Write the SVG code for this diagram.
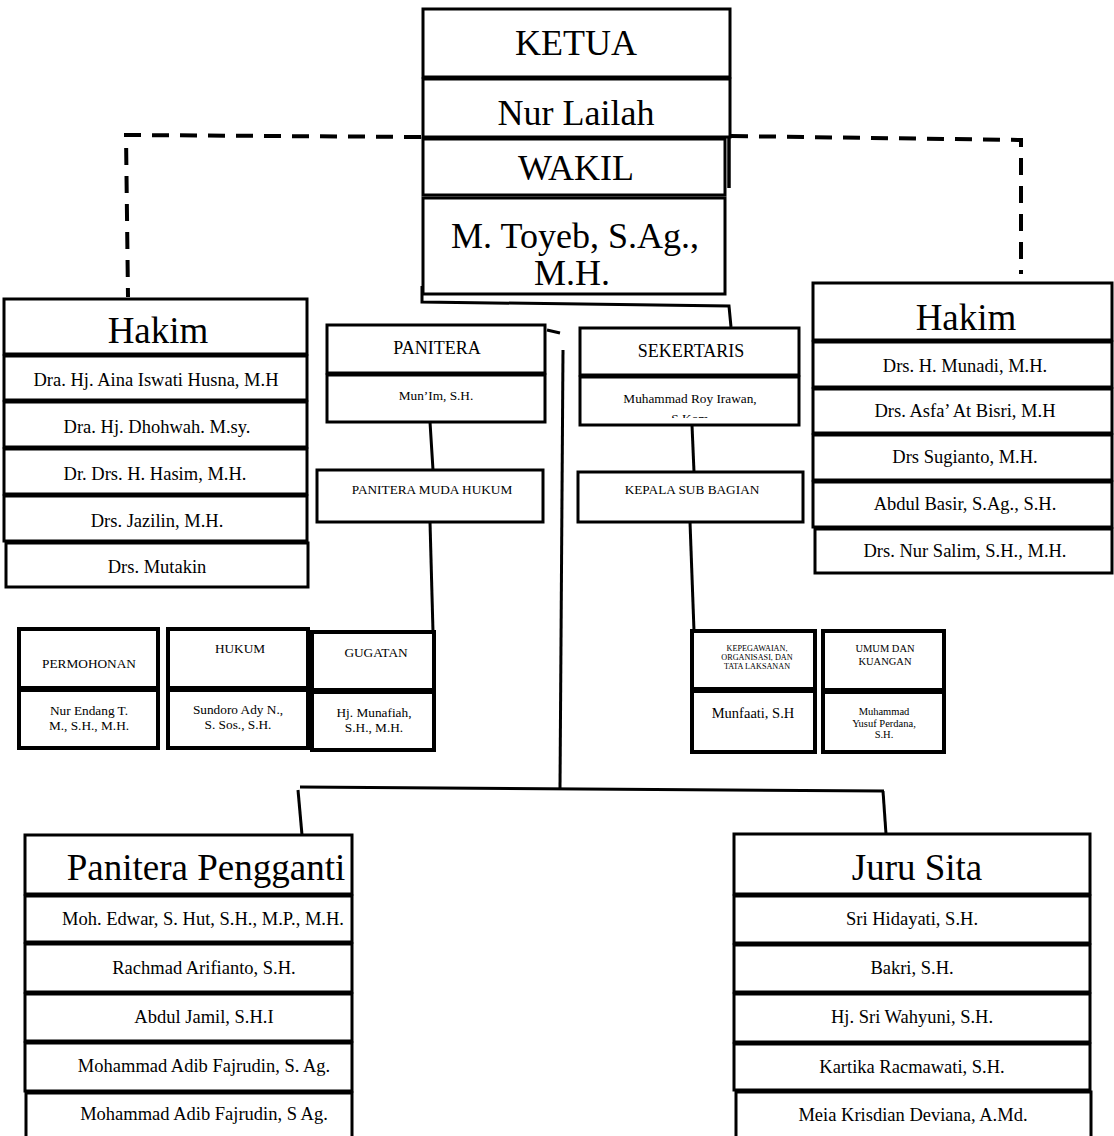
<svg xmlns="http://www.w3.org/2000/svg" width="1114" height="1136" viewBox="0 0 1114 1136">
<style>
  .c{fill:#fff;stroke:#000;stroke-width:3}
  .s{fill:#fff;stroke:#000;stroke-width:4}
  .t{font-family:"Liberation Serif","Times New Roman",serif;fill:#000;text-anchor:middle}
  .big{font-size:36px}
  .ttl{font-size:37px}
  .nm{font-size:18.5px}
  .hd{font-size:18px}
  .sm{font-size:13.3px}
  .ln{fill:none;stroke:#000;stroke-width:3}
  .dash{fill:none;stroke:#000;stroke-width:4;stroke-dasharray:17 11}
</style>
<defs>
  <clipPath id="cToyeb"><rect x="423" y="198" width="302" height="90"/></clipPath>
  <clipPath id="cRoy"><rect x="580" y="377" width="219" height="41"/></clipPath>
  <clipPath id="cPP"><rect x="25" y="835" width="340" height="57"/></clipPath>
</defs>

<g id="connectors">
  <path class="dash" d="M421 137 L126 135 L128 297"/>
  <path class="dash" d="M731 136 L1021 140 L1021 274"/>
  <path class="ln" d="M422 286 L422 302 L729 306 L731 327"/>
  <path class="ln" d="M547 330 L560 333"/>
  <path class="ln" d="M563 350 L560 788"/>
  <path class="ln" d="M300 787 L884 791"/>
  <path class="ln" d="M298 790 L302 835"/>
  <path class="ln" d="M883 791 L886 834"/>
  <path class="ln" d="M430 422 L433 470"/>
  <path class="ln" d="M430 522 L433 632"/>
  <path class="ln" d="M692 425 L694 472"/>
  <path class="ln" d="M690 522 L694 631"/>
</g>

<g id="ketua">
  <rect class="c" x="423" y="9" width="307" height="68"/>
  <text class="t big" x="576" y="55">KETUA</text>
  <rect class="c" x="423" y="79" width="307" height="58"/>
  <text class="t big" x="576" y="125">Nur Lailah</text>
</g>
<g id="wakil">
  <rect class="c" x="423" y="139" width="302" height="56"/>
  <line x1="729" y1="137" x2="729" y2="188" stroke="#000" stroke-width="3.5"/>
  <text class="t big" x="576" y="180">WAKIL</text>
  <rect class="c" x="423" y="198" width="302" height="96"/>
  <g clip-path="url(#cToyeb)">
    <text class="t big" x="575" y="248">M. Toyeb, S.Ag.,</text>
    <text class="t big" x="572" y="285">M.H.</text>
  </g>
</g>

<g id="hakim-left">
  <rect class="c" x="4" y="299" width="303" height="55"/>
  <text class="t ttl" x="158" y="343">Hakim</text>
  <rect class="c" x="4" y="356" width="303" height="44"/>
  <text class="t nm" x="156" y="386">Dra. Hj. Aina Iswati Husna, M.H</text>
  <rect class="c" x="4" y="402" width="303" height="45"/>
  <text class="t nm" x="157" y="433">Dra. Hj. Dhohwah. M.sy.</text>
  <rect class="c" x="4" y="449" width="303" height="45"/>
  <text class="t nm" x="155" y="480">Dr. Drs. H. Hasim, M.H.</text>
  <rect class="c" x="4" y="496" width="303" height="45"/>
  <text class="t nm" x="157" y="527">Drs. Jazilin, M.H.</text>
  <rect class="c" x="6" y="543" width="302" height="44"/>
  <text class="t nm" x="157" y="573">Drs. Mutakin</text>
</g>

<g id="hakim-right">
  <rect class="c" x="813" y="283" width="299" height="57"/>
  <text class="t ttl" x="966" y="330">Hakim</text>
  <rect class="c" x="813" y="342" width="299" height="45"/>
  <text class="t nm" x="965" y="372">Drs. H. Munadi, M.H.</text>
  <rect class="c" x="813" y="389" width="299" height="44"/>
  <text class="t nm" x="965" y="417">Drs. Asfa’ At Bisri, M.H</text>
  <rect class="c" x="813" y="435" width="299" height="45"/>
  <text class="t nm" x="965" y="463">Drs Sugianto, M.H.</text>
  <rect class="c" x="813" y="482" width="299" height="45"/>
  <text class="t nm" x="965" y="510">Abdul Basir, S.Ag., S.H.</text>
  <rect class="c" x="815" y="529" width="297" height="44"/>
  <text class="t nm" x="965" y="557">Drs. Nur Salim, S.H., M.H.</text>
</g>

<g id="panitera">
  <rect class="c" x="327" y="325" width="218" height="48"/>
  <text class="t hd" x="437" y="354">PANITERA</text>
  <rect class="c" x="327" y="375" width="218" height="47"/>
  <text class="t sm" x="436" y="400">Mun’Im, S.H.</text>
</g>

<g id="sekertaris">
  <rect class="c" x="580" y="328" width="219" height="47"/>
  <text class="t hd" x="691" y="357">SEKERTARIS</text>
  <rect class="c" x="580" y="377" width="219" height="48"/>
  <g clip-path="url(#cRoy)">
    <text class="t sm" x="690" y="403">Muhammad Roy Irawan,</text>
    <text class="t sm" x="690" y="423">S.Kom</text>
  </g>
</g>

<g id="panitera-muda-hukum">
  <rect class="c" x="317" y="470" width="226" height="52"/>
  <text class="t sm" x="432" y="494">PANITERA MUDA HUKUM</text>
</g>

<g id="kepala-sub-bagian">
  <rect class="c" x="578" y="472" width="225" height="50"/>
  <text class="t sm" x="692" y="494">KEPALA SUB BAGIAN</text>
</g>

<g id="permohonan">
  <rect class="s" x="19" y="629" width="139" height="59"/>
  <text class="t sm" x="89" y="668">PERMOHONAN</text>
  <rect class="s" x="19" y="690" width="139" height="58"/>
  <text class="t sm" x="89" y="715">Nur Endang T.</text>
  <text class="t sm" x="89" y="730">M., S.H., M.H.</text>
</g>

<g id="hukum">
  <rect class="s" x="168" y="629" width="140" height="59"/>
  <text class="t sm" x="240" y="653">HUKUM</text>
  <rect class="s" x="168" y="690" width="140" height="58"/>
  <text class="t sm" x="238" y="714">Sundoro  Ady N.,</text>
  <text class="t sm" x="238" y="729">S. Sos., S.H.</text>
</g>

<g id="gugatan">
  <rect class="s" x="312" y="632" width="122" height="58"/>
  <text class="t sm" x="376" y="657">GUGATAN</text>
  <rect class="s" x="312" y="692" width="122" height="58"/>
  <text class="t sm" x="374" y="717">Hj. Munafiah,</text>
  <text class="t sm" x="374" y="732">S.H., M.H.</text>
</g>

<g id="kepegawaian">
  <rect class="s" x="692" y="631" width="123" height="58"/>
  <text class="t" font-size="8.2" x="757" y="651">KEPEGAWAIAN,</text>
  <text class="t" font-size="8.2" x="757" y="660">ORGANISASI, DAN</text>
  <text class="t" font-size="8.2" x="757" y="669">TATA LAKSANAN</text>
  <rect class="s" x="692" y="691" width="123" height="61"/>
  <text class="t" font-size="14.5" x="753" y="718">Munfaati, S.H</text>
</g>

<g id="umum-dan-kuangan">
  <rect class="s" x="823" y="631" width="121" height="59"/>
  <text class="t" font-size="10.5" x="885" y="652">UMUM DAN</text>
  <text class="t" font-size="10.5" x="885" y="665">KUANGAN</text>
  <rect class="s" x="823" y="692" width="121" height="60"/>
  <text class="t" font-size="10.5" x="884" y="715">Muhammad</text>
  <text class="t" font-size="10.5" x="884" y="727">Yusuf Perdana,</text>
  <text class="t" font-size="10.5" x="884" y="738">S.H.</text>
</g>

<g id="panitera-pengganti">
  <rect class="c" x="25" y="835" width="327" height="59"/>
  <g clip-path="url(#cPP)">
    <text class="t ttl" x="206" y="880">Panitera Pengganti</text>
  </g>
  <rect class="c" x="25" y="896" width="327" height="46"/>
  <text class="t nm" x="203" y="925">Moh. Edwar, S. Hut, S.H., M.P., M.H.</text>
  <rect class="c" x="25" y="944" width="327" height="48"/>
  <text class="t nm" x="204" y="974">Rachmad Arifianto, S.H.</text>
  <rect class="c" x="25" y="994" width="327" height="47"/>
  <text class="t nm" x="204" y="1023">Abdul Jamil, S.H.I</text>
  <rect class="c" x="25" y="1043" width="327" height="48"/>
  <text class="t nm" x="204" y="1072">Mohammad Adib Fajrudin, S. Ag.</text>
  <rect class="c" x="26" y="1093" width="326" height="50"/>
  <text class="t nm" x="204" y="1120">Mohammad Adib Fajrudin, S Ag.</text>
</g>

<g id="juru-sita">
  <rect class="c" x="734" y="834" width="356" height="60"/>
  <text class="t ttl" x="917" y="880">Juru Sita</text>
  <rect class="c" x="734" y="896" width="356" height="47"/>
  <text class="t nm" x="912" y="925">Sri Hidayati, S.H.</text>
  <rect class="c" x="734" y="945" width="356" height="47"/>
  <text class="t nm" x="912" y="974">Bakri, S.H.</text>
  <rect class="c" x="734" y="994" width="356" height="48"/>
  <text class="t nm" x="912" y="1023">Hj. Sri Wahyuni, S.H.</text>
  <rect class="c" x="734" y="1044" width="356" height="46"/>
  <text class="t nm" x="912" y="1073">Kartika Racmawati, S.H.</text>
  <rect class="c" x="736" y="1092" width="355" height="51"/>
  <text class="t nm" x="913" y="1121">Meia Krisdian Deviana, A.Md.</text>
</g>
</svg>
